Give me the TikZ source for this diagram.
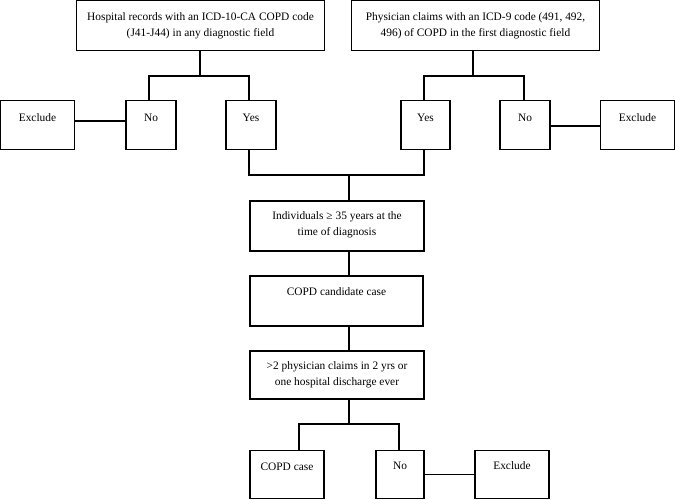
\documentclass[tikz,border=0pt]{standalone}
\usepackage{fontspec}
\setmainfont{Liberation Serif}
\begin{document}
\begin{tikzpicture}[x=1pt,y=-1pt,
  box/.style={draw=black,line width=1.4pt,inner sep=0pt,minimum width=#1},
  lbl/.style={anchor=north,inner sep=0pt,align=center,font=\fontsize{11.4}{16}\selectfont},
  con/.style={draw=black,line width=1.4pt}]
\useasboundingbox (0,0) rectangle (675,500);
% boxes
\node[box=248pt,minimum height=50pt] (h1) at (200.5,25.7) {};
\node[box=248pt,minimum height=50pt] (p1) at (475.5,25.7) {};
\node[box=50pt,minimum height=49pt] (hno) at (151,125) {};
\node[box=50pt,minimum height=49pt] (hyes) at (251,125) {};
\node[box=74pt,minimum height=49pt] (hex) at (37.5,125) {};
\node[box=49pt,minimum height=49pt] (pyes) at (425.5,125) {};
\node[box=50pt,minimum height=49pt] (pno) at (525,125) {};
\node[box=74pt,minimum height=49pt] (pex) at (637.5,125) {};
\node[box=174pt,minimum height=50pt] (ind) at (337,226) {};
\node[box=173pt,minimum height=50pt] (cand) at (336.5,301) {};
\node[box=174pt,minimum height=48pt] (crit) at (337,375) {};
\node[box=74pt,minimum height=48pt] (case) at (287,474.5) {};
\node[box=48pt,minimum height=48pt] (cno) at (400,474.5) {};
\node[box=74pt,minimum height=48pt] (cex) at (512,474.5) {};
% texts
\node[lbl] (th1) at ([yshift=-12.5pt]h1.north) {Hospital records with an ICD-10-CA COPD code\\(J41-J44) in any diagnostic field};
\node[lbl] (tp1) at ([yshift=-12.5pt]p1.north) {Physician claims with an ICD-9 code (491, 492,\\496) of COPD in the first diagnostic field};
\node[lbl] (thno) at ([yshift=-14pt]hno.north) {No};
\node[lbl] (thyes) at ([yshift=-14pt]hyes.north) {Yes};
\node[lbl] (thex) at ([yshift=-14pt]hex.north) {Exclude};
\node[lbl] (tpyes) at ([yshift=-14pt]pyes.north) {Yes};
\node[lbl] (tpno) at ([yshift=-14pt]pno.north) {No};
\node[lbl] (tpex) at ([yshift=-14pt]pex.north) {Exclude};
\node[lbl] (tind) at ([yshift=-11pt]ind.north) {Individuals ≥ 35 years at the\\time of diagnosis};
\node[lbl] (tcand) at ([yshift=-12pt]cand.north) {COPD candidate case};
\node[lbl] (tcrit) at ([yshift=-11pt]crit.north) {>2 physician claims in 2 yrs or\\one hospital discharge ever};
\node[lbl] (tcase) at ([yshift=-13pt]case.north) {COPD case};
\node[lbl] (tcno) at ([yshift=-12pt]cno.north) {No};
\node[lbl] (tcex) at ([yshift=-12pt]cex.north) {Exclude};
% junctions
\coordinate (hj) at (200,76);
\coordinate (hl) at (149,76);
\coordinate (hr) at (249,76);
\coordinate (pj) at (473,76);
\coordinate (pl) at (424,76);
\coordinate (pr) at (524,76);
\coordinate (ml) at (249,175);
\coordinate (mj) at (349,175);
\coordinate (mr) at (424,175);
\coordinate (cj) at (349,424);
\coordinate (cl) at (299,424);
\coordinate (cr) at (399,424);
% connectors
\draw[con] (h1.south -| hj) -- (hj);
\draw[con] (hl |- hno.north) -- (hl) -- (hr) -- (hr |- hyes.north);
\draw[con] (p1.south -| pj) -- (pj);
\draw[con] (pl |- pyes.north) -- (pl) -- (pr) -- (pr |- pno.north);
\draw[con] ([yshift=4pt]hex.east) -- ([yshift=4pt]hno.west);
\draw[con] ([yshift=-1pt]pno.east) -- ([yshift=-1pt]pex.west);
\draw[con] (hyes.south -| ml) -- (ml) -- (mr) -- (pyes.south -| mr);
\draw[con] (mj) -- (ind.north -| mj);
\draw[con] (ind.south -| mj) -- (cand.north -| mj);
\draw[con] (cand.south -| mj) -- (crit.north -| mj);
\draw[con] (crit.south -| cj) -- (cj);
\draw[con] (cl |- case.north) -- (cl) -- (cr) -- (cr |- cno.north);
\draw[con] (cno.east) -- (cex.west);
\end{tikzpicture}
\end{document}
